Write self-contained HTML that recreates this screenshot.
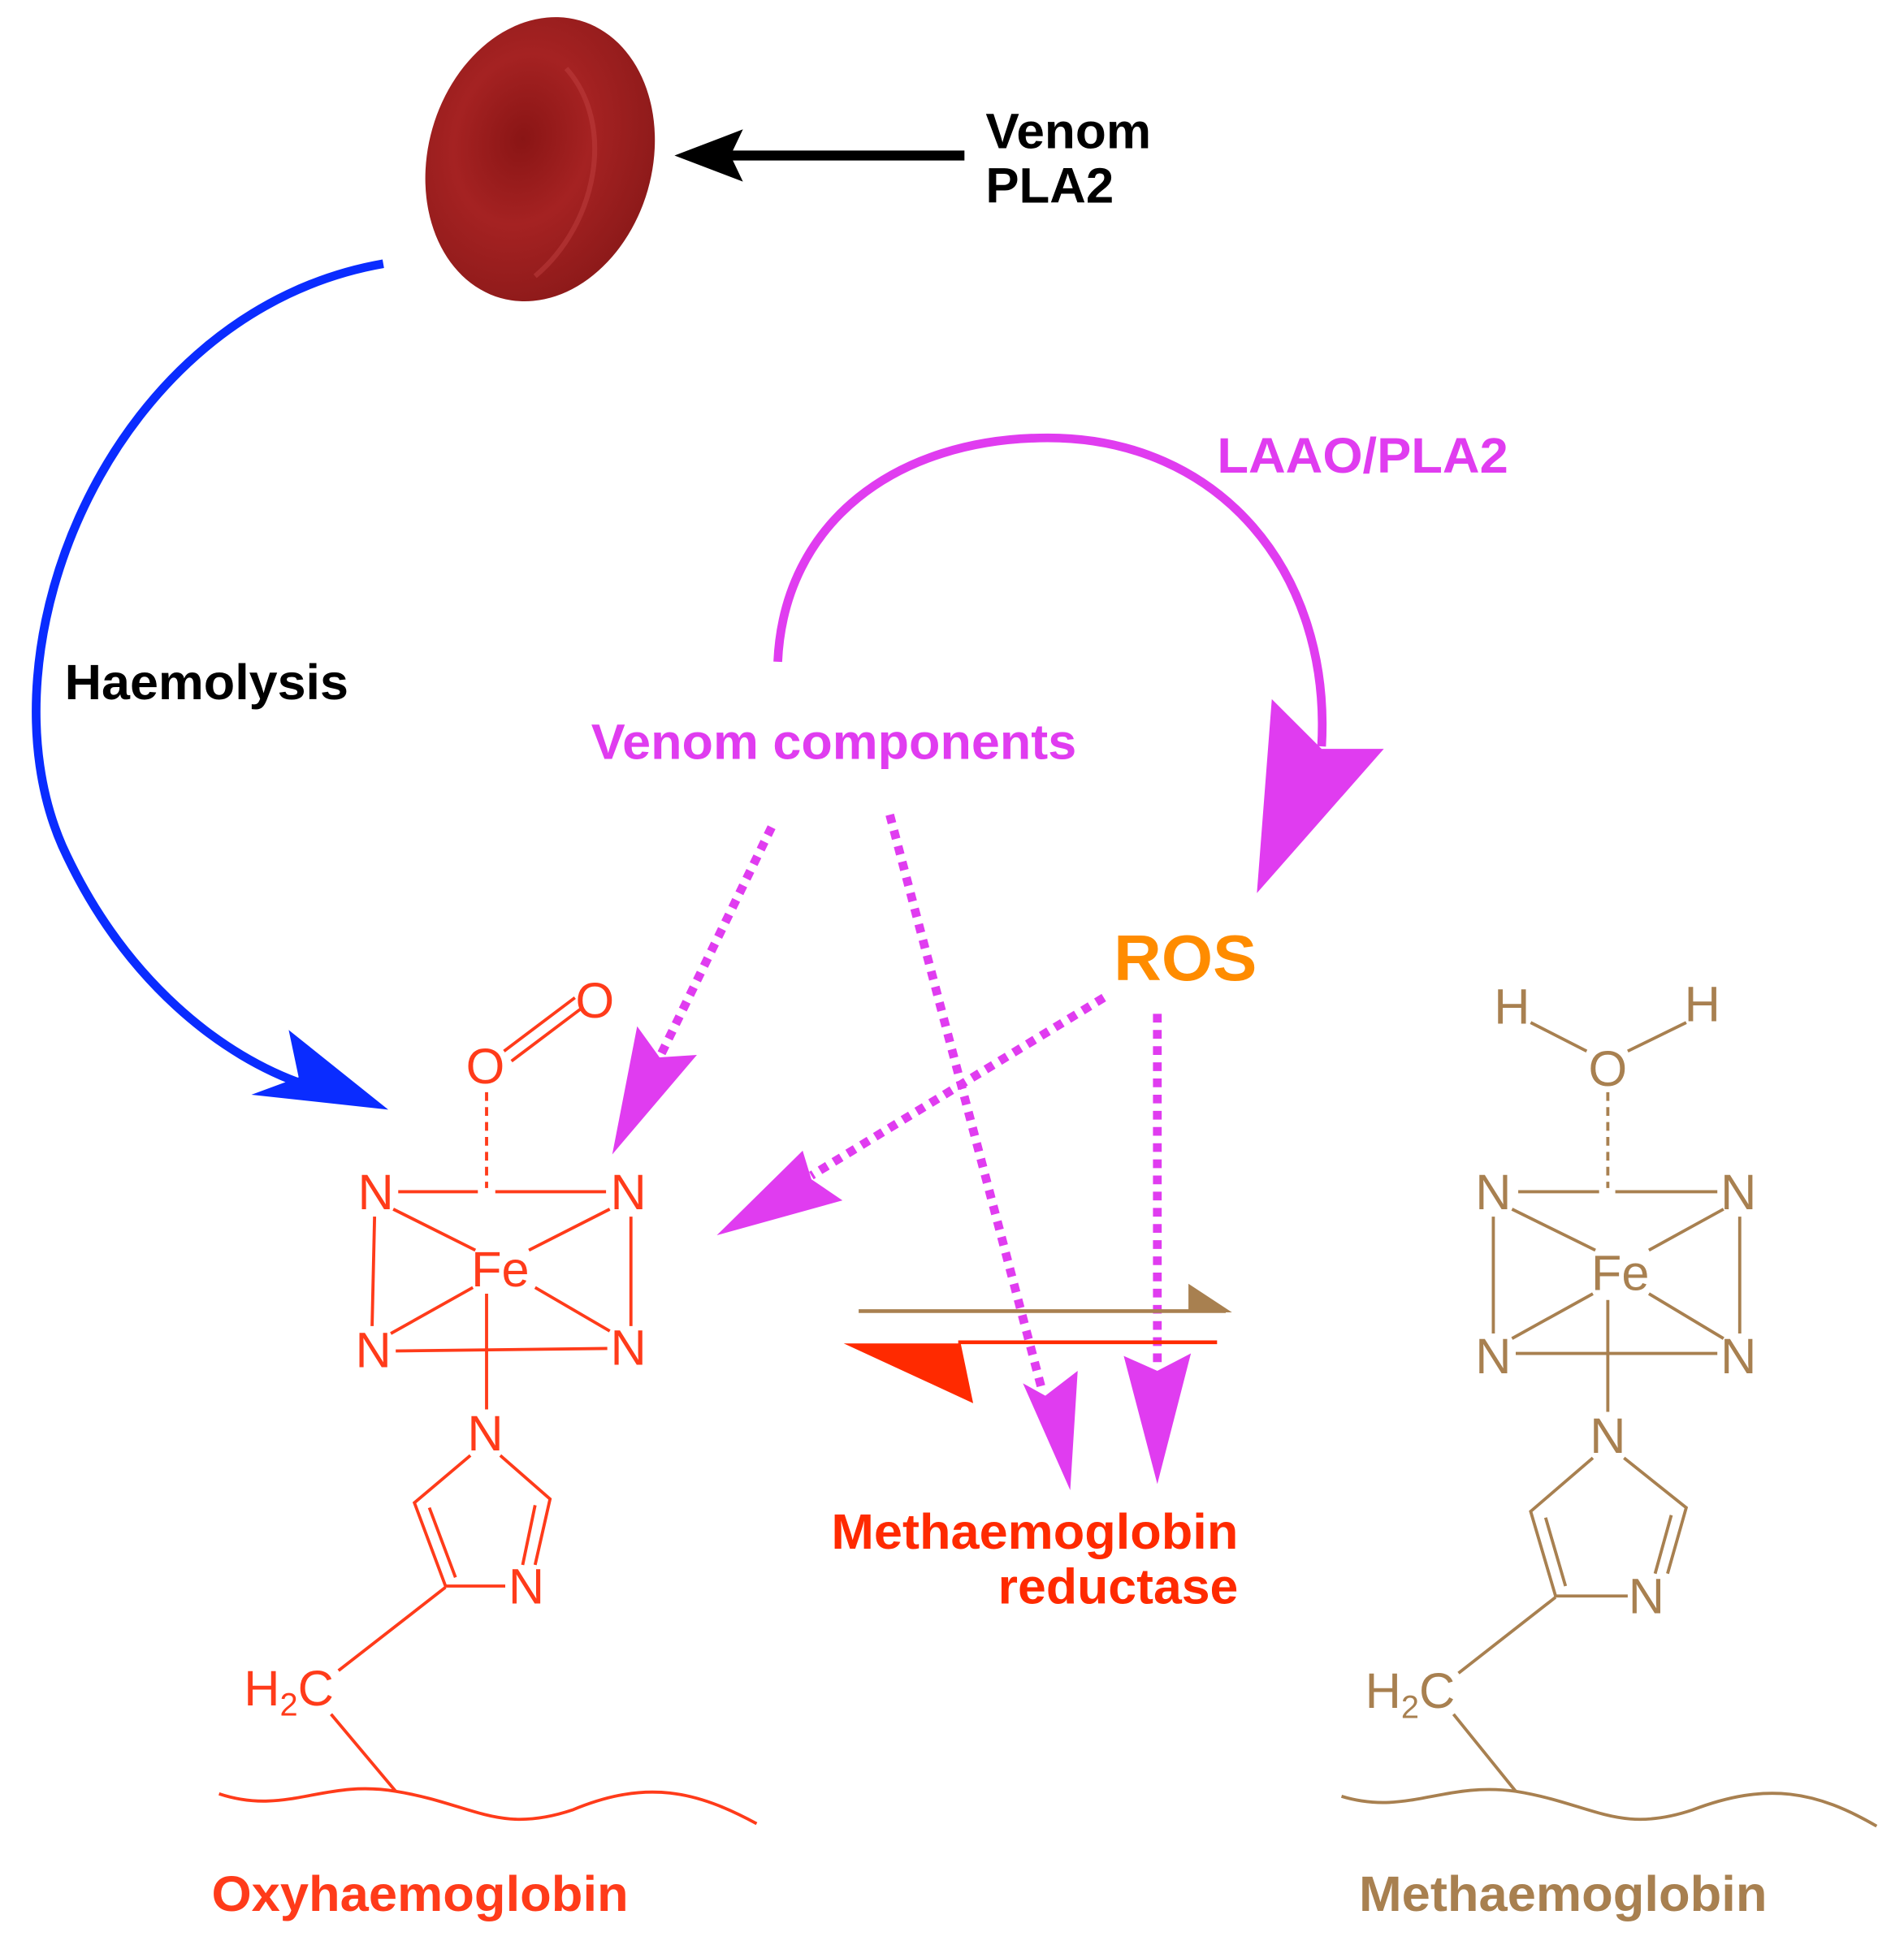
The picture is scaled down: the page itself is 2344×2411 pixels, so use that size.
<!DOCTYPE html>
<html><head><meta charset="utf-8"><style>
html,body{margin:0;padding:0;background:#fff}
svg{display:block}
text{font-family:"Liberation Sans",Arial,sans-serif}
.b{font-weight:bold}
</style></head><body>
<svg width="2344" height="2411" viewBox="0 0 1530 1574" preserveAspectRatio="none" xmlns="http://www.w3.org/2000/svg">
<defs>
<radialGradient id="rbc" cx="0.4" cy="0.45" r="0.6">
<stop offset="0" stop-color="#8a1515"/><stop offset="0.5" stop-color="#a52222"/><stop offset="1" stop-color="#8e1a1a"/>
</radialGradient>
</defs>
<ellipse cx="434" cy="128" rx="90" ry="116" transform="rotate(16 434 128)" fill="url(#rbc)"/>
<path d="M455 55 C495 100 480 180 430 222" stroke="#c04040" stroke-width="4" fill="none" opacity="0.5"/>
<line x1="775" y1="125" x2="585" y2="125" stroke="#000" stroke-width="8"/>
<polygon points="542,125 597,104 587,125 597,146" fill="#000"/>
<text x="792" y="119" class="b" font-size="40" textLength="133" lengthAdjust="spacingAndGlyphs">Venom</text>
<text x="792" y="163" class="b" font-size="40" textLength="103" lengthAdjust="spacingAndGlyphs">PLA2</text>
<path d="M308 212 C90 250 -20 520 50 680 C100 790 180 850 245 872" stroke="#0a2cff" stroke-width="7" fill="none"/>
<polygon points="312,892 202,880 240,866 232,828" fill="#0a2cff"/>
<text x="52" y="562" class="b" font-size="40" textLength="228" lengthAdjust="spacingAndGlyphs">Haemolysis</text>
<path d="M625 532 C630 420 720 352 842 352 C980 352 1070 460 1062 600" stroke="#e03cf0" stroke-width="7" fill="none"/>
<polygon points="1010,718 1022,562 1062,602 1112,602" fill="#e03cf0"/>
<text x="978" y="380" class="b" font-size="40" fill="#e03cf0" textLength="234" lengthAdjust="spacingAndGlyphs">LAAO/PLA2</text>
<text x="475" y="610" class="b" font-size="40" fill="#e03cf0" textLength="390" lengthAdjust="spacingAndGlyphs">Venom components</text>
<text x="895" y="788" class="b" font-size="52" fill="#ff8c00" textLength="115" lengthAdjust="spacingAndGlyphs">ROS</text>
<g stroke="#e03cf0" stroke-width="7" stroke-dasharray="7 6" fill="none">
<line x1="620" y1="665" x2="530" y2="850"/>
<line x1="715" y1="655" x2="838" y2="1120"/>
<line x1="887" y1="802" x2="652" y2="945"/>
<line x1="930" y1="815" x2="930" y2="1100"/>
</g>
<g fill="#e03cf0">
<polygon points="492,928 512,825 530,850 560,848"/>
<polygon points="860,1198 822,1112 840,1122 866,1102"/>
<polygon points="576,993 645,925 652,948 677,965"/>
<polygon points="930,1193 903,1090 930,1102 957,1088"/>
</g>
<line x1="690" y1="1054" x2="985" y2="1054" stroke="#a88050" stroke-width="3"/>
<polygon points="955,1032 990,1055 955,1055" fill="#a88050"/>
<line x1="770" y1="1079" x2="978" y2="1079" stroke="#ff2a00" stroke-width="3"/>
<polygon points="678,1080 772,1080 782,1128" fill="#ff2a00"/>
<text x="668" y="1245" class="b" font-size="40" fill="#ff2a00" textLength="327" lengthAdjust="spacingAndGlyphs">Methaemoglobin</text>
<text x="802" y="1289" class="b" font-size="40" fill="#ff2a00" textLength="193" lengthAdjust="spacingAndGlyphs">reductase</text>
<g stroke="#ff3b1a" stroke-width="2.5" fill="none">
<line x1="405" y1="845" x2="462" y2="802"/><line x1="411" y1="853" x2="468" y2="810"/>
<line x1="391" y1="878" x2="391" y2="955" stroke-dasharray="7 5"/>
<line x1="320" y1="958" x2="384" y2="958"/><line x1="398" y1="958" x2="487" y2="958"/>
<line x1="301" y1="978" x2="299" y2="1066"/><line x1="507" y1="978" x2="507" y2="1066"/>
<line x1="318" y1="1086" x2="488" y2="1084"/>
<line x1="316" y1="972" x2="382" y2="1005"/><line x1="490" y1="972" x2="425" y2="1005"/>
<line x1="314" y1="1072" x2="380" y2="1035"/><line x1="490" y1="1070" x2="430" y2="1035"/>
<line x1="391" y1="1040" x2="391" y2="1133"/>
<path d="M378 1170 L333 1208 L358 1275 L406 1275"/>
<path d="M345 1212 L366 1268"/>
<path d="M402 1170 L442 1205 L430 1258"/>
<path d="M430 1210 L420 1258"/>
<line x1="358" y1="1276" x2="272" y2="1343"/>
<line x1="266" y1="1378" x2="318" y2="1440"/>
<path d="M176 1442 C230 1460 260 1430 318 1440 C380 1450 400 1475 460 1455 C520 1430 560 1440 608 1466"/>
</g>
<g fill="#ff3b1a" font-size="40">
<text x="390" y="871" text-anchor="middle">O</text>
<text x="478" y="818" text-anchor="middle">O</text>
<text x="302" y="972" text-anchor="middle">N</text>
<text x="505" y="972" text-anchor="middle">N</text>
<text x="300" y="1099" text-anchor="middle">N</text>
<text x="505" y="1097" text-anchor="middle">N</text>
<text x="402" y="1034" text-anchor="middle">Fe</text>
<text x="390" y="1166" text-anchor="middle">N</text>
<text x="423" y="1289" text-anchor="middle">N</text>
<text x="196" y="1371">H<tspan font-size="26" dy="8">2</tspan><tspan dy="-8">C</tspan></text>
</g>
<text x="170" y="1536" class="b" font-size="40" fill="#ff3b1a" textLength="335" lengthAdjust="spacingAndGlyphs">Oxyhaemoglobin</text>
<g stroke="#a88050" stroke-width="2.5" fill="none">
<line x1="1230" y1="822" x2="1275" y2="845"/><line x1="1355" y1="822" x2="1308" y2="845"/>
<line x1="1292" y1="878" x2="1292" y2="955" stroke-dasharray="7 5"/>
<line x1="1220" y1="958" x2="1285" y2="958"/><line x1="1298" y1="958" x2="1380" y2="958"/>
<line x1="1200" y1="978" x2="1200" y2="1072"/><line x1="1398" y1="978" x2="1398" y2="1072"/>
<line x1="1218" y1="1088" x2="1380" y2="1088"/>
<line x1="1215" y1="972" x2="1282" y2="1005"/><line x1="1385" y1="972" x2="1325" y2="1005"/>
<line x1="1215" y1="1076" x2="1280" y2="1040"/><line x1="1385" y1="1076" x2="1325" y2="1040"/>
<line x1="1292" y1="1045" x2="1292" y2="1135"/>
<path d="M1280 1172 L1230 1215 L1250 1283 L1308 1283"/>
<path d="M1242 1220 L1258 1275"/>
<path d="M1305 1172 L1355 1212 L1340 1265"/>
<path d="M1343 1218 L1330 1265"/>
<line x1="1250" y1="1284" x2="1172" y2="1345"/>
<line x1="1168" y1="1378" x2="1218" y2="1440"/>
<path d="M1078 1444 C1130 1460 1160 1432 1218 1440 C1280 1450 1300 1475 1360 1455 C1420 1432 1460 1440 1508 1468"/>
</g>
<g fill="#a88050" font-size="40">
<text x="1215" y="823" text-anchor="middle">H</text>
<text x="1368" y="821" text-anchor="middle">H</text>
<text x="1292" y="873" text-anchor="middle">O</text>
<text x="1200" y="972" text-anchor="middle">N</text>
<text x="1397" y="972" text-anchor="middle">N</text>
<text x="1200" y="1104" text-anchor="middle">N</text>
<text x="1397" y="1104" text-anchor="middle">N</text>
<text x="1302" y="1037" text-anchor="middle">Fe</text>
<text x="1292" y="1168" text-anchor="middle">N</text>
<text x="1323" y="1297" text-anchor="middle">N</text>
<text x="1097" y="1373">H<tspan font-size="26" dy="8">2</tspan><tspan dy="-8">C</tspan></text>
</g>
<text x="1092" y="1536" class="b" font-size="40" fill="#a88050" textLength="328" lengthAdjust="spacingAndGlyphs">Methaemoglobin</text>
</svg>
</body></html>
